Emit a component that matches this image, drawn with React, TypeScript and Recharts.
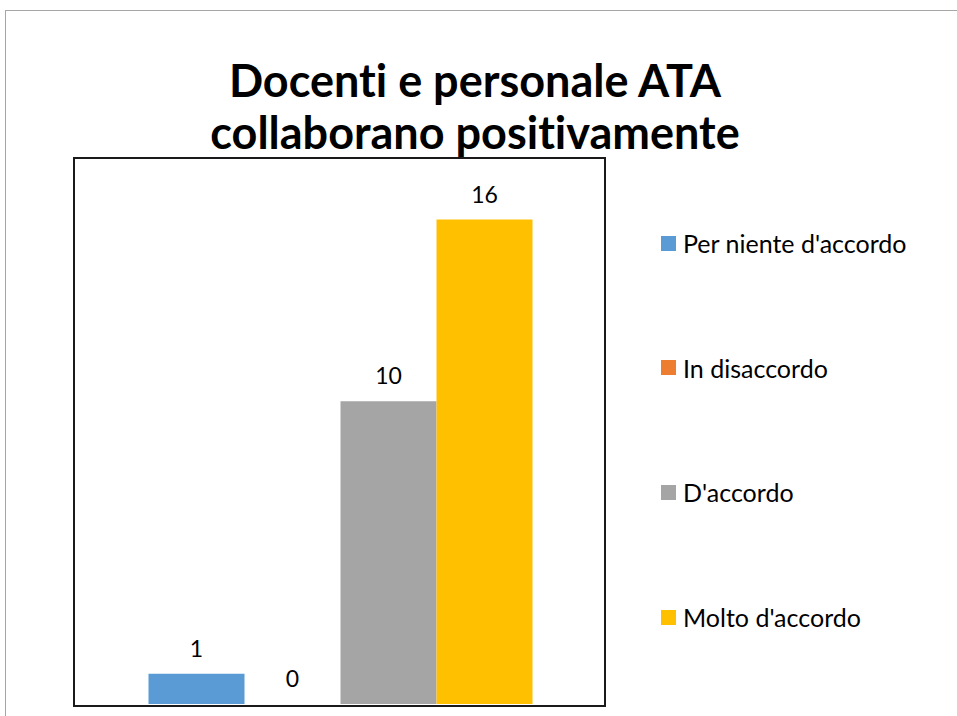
import { BarChart, Bar, XAxis, YAxis, LabelList } from "recharts"

const categories = ["Docenti e personale ATA collaborano positivamente"]
const seriesNames = ["Per niente d'accordo", "In disaccordo", "D'accordo", "Molto d'accordo"]
const seriesValues = [1, 0, 10, 16]
const seriesColors = ["#5B9BD5", "#ED7D31", "#A5A5A5", "#FFC000"]

const data = categories.map((name) => {
  const row: Record<string, string | number> = { name }
  seriesNames.forEach((s, i) => {
    row[s] = seriesValues[i]
  })
  return row
})

const font = "Lato, 'Open Sans', sans-serif"

// value label drawn above each bar (also for the zero-height one)
function TopLabel(props: any) {
  const { x, y, width, value } = props
  return (
    <text
      x={Number(x) + Number(width) / 2}
      y={Number(y) - 17}
      textAnchor="middle"
      style={{ fontFamily: font, fontSize: 23, fill: "#000", fontVariantLigatures: "none" }}
    >
      {value}
    </text>
  )
}

export default function App() {
  return (
    <div style={{ position: "absolute", left: 0, top: 0, width: 957, height: 716, overflow: "hidden", background: "#fff" }}>
      <div
        style={{
          position: "absolute",
          left: 5,
          top: 10,
          width: 970,
          height: 730,
          border: "1px solid #a6a6a6"
        }}
      />
      <div
        style={{
          position: "absolute",
          left: 0,
          top: 54,
          width: 950,
          textAlign: "center",
          fontFamily: font,
          fontWeight: 700,
          fontSize: 45,
          lineHeight: "52px",
          color: "#000",
          fontVariantLigatures: "none"
        }}
      >
        Docenti e personale ATA
        <br />
        collaborano positivamente
      </div>
      <div style={{ position: "absolute", left: 0, top: 0 }}>
        <BarChart
          width={957}
          height={716}
          data={data}
          margin={{ top: 159, right: 352, bottom: 12, left: 75 }}
          barCategoryGap={73.5}
          barGap={0}
        >
          <XAxis dataKey="name" hide />
          <YAxis hide domain={[0, 18]} />
          {seriesNames.map((s, i) => (
            <Bar
              key={s}
              dataKey={s}
              fill={seriesColors[i]}
              minPointSize={0.01}
              isAnimationActive={false}
            >
              <LabelList dataKey={s} content={<TopLabel />} />
            </Bar>
          ))}
        </BarChart>
      </div>
      <div
        style={{
          position: "absolute",
          left: 73,
          top: 157,
          width: 529,
          height: 546,
          border: "2px solid #1a1a1a",
          pointerEvents: "none"
        }}
      />
      {seriesNames.map((s, i) => (
        <div
          key={s}
          style={{
            position: "absolute",
            left: 661,
            top: 243 + i * 124.7 - 15,
            height: 30,
            display: "flex",
            alignItems: "center",
            fontFamily: font,
            fontSize: 25,
            color: "#000",
            whiteSpace: "nowrap"
          }}
        >
          <span
            style={{
              width: 15,
              height: 15,
              background: seriesColors[i],
              display: "inline-block",
              marginRight: 7
            }}
          />
          {s}
        </div>
      ))}
    </div>
  )
}
